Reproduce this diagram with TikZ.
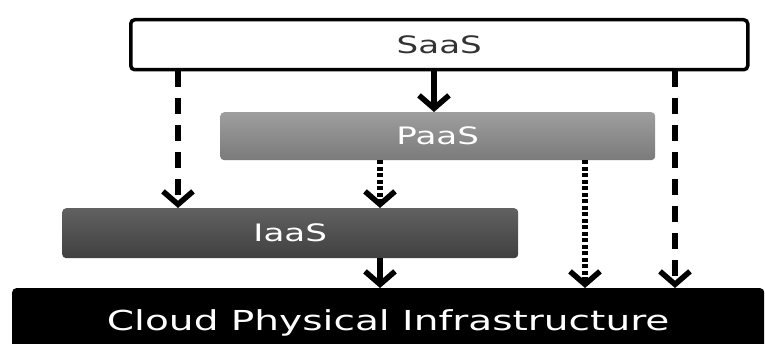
\documentclass[tikz,border=0pt]{standalone}
\usepackage{fontspec}
\setmainfont{DejaVu Sans}
\usetikzlibrary{arrows.meta}
\newcommand{\widetext}[1]{\scalebox{1.42}[1]{#1}}
\begin{document}
\begin{tikzpicture}[x=1pt,y=-1pt,
  layer/.style={rounded corners=4pt, inner sep=0pt, anchor=north west, text=white,
                font=\fontsize{24}{28}\selectfont},
  link/.style={line width=6.5pt, -{Straight Barb[length=13pt,width=30pt,line width=5.5pt]}},
  dashlink/.style={link, dash pattern=on 16pt off 11pt},
  dotlink/.style={link, dash pattern=on 4pt off 2.5pt},
  solidlink/.style={link}
]
\useasboundingbox (0,0) rectangle (765,344);

% service layers
\node[layer, draw=black, line width=3.5pt, fill=white, text=black!80,
      minimum width=617pt, minimum height=50pt]
  (saas) at (129,18) {\widetext{SaaS}};
\node[layer, top color=black!38, bottom color=black!52,
      minimum width=435pt, minimum height=48pt]
  (paas) at (220,112) {\widetext{PaaS}};
\node[layer, top color=black!62, bottom color=black!75,
      minimum width=456pt, minimum height=50pt]
  (iaas) at (62,208) {\widetext{IaaS}};
\node[layer, fill=black, minimum width=752pt, minimum height=72pt,
      font=\fontsize{27.5}{31}\selectfont]
  (cloud) at (12,288) {\raisebox{9pt}{\widetext{Cloud Physical Infrastructure}}};

% x positions of the connectors
\coordinate (xa) at (178,0);
\coordinate (xb) at (434,0);
\coordinate (xc) at (675,0);
\coordinate (xd) at (380,0);
\coordinate (xe) at (585,0);

% SaaS relations
\draw[dashlink] (saas.south -| xa) -- (iaas.north -| xa);
\draw[solidlink] (saas.south -| xb) -- (paas.north -| xb);
\draw[dashlink] (saas.south -| xc) -- (cloud.north -| xc);

% PaaS relations
\draw[dotlink] (paas.south -| xd) -- (iaas.north -| xd);
\draw[dotlink] (paas.south -| xe) -- (cloud.north -| xe);

% IaaS relation
\draw[solidlink] (iaas.south -| xd) -- (cloud.north -| xd);
\end{tikzpicture}
\end{document}
